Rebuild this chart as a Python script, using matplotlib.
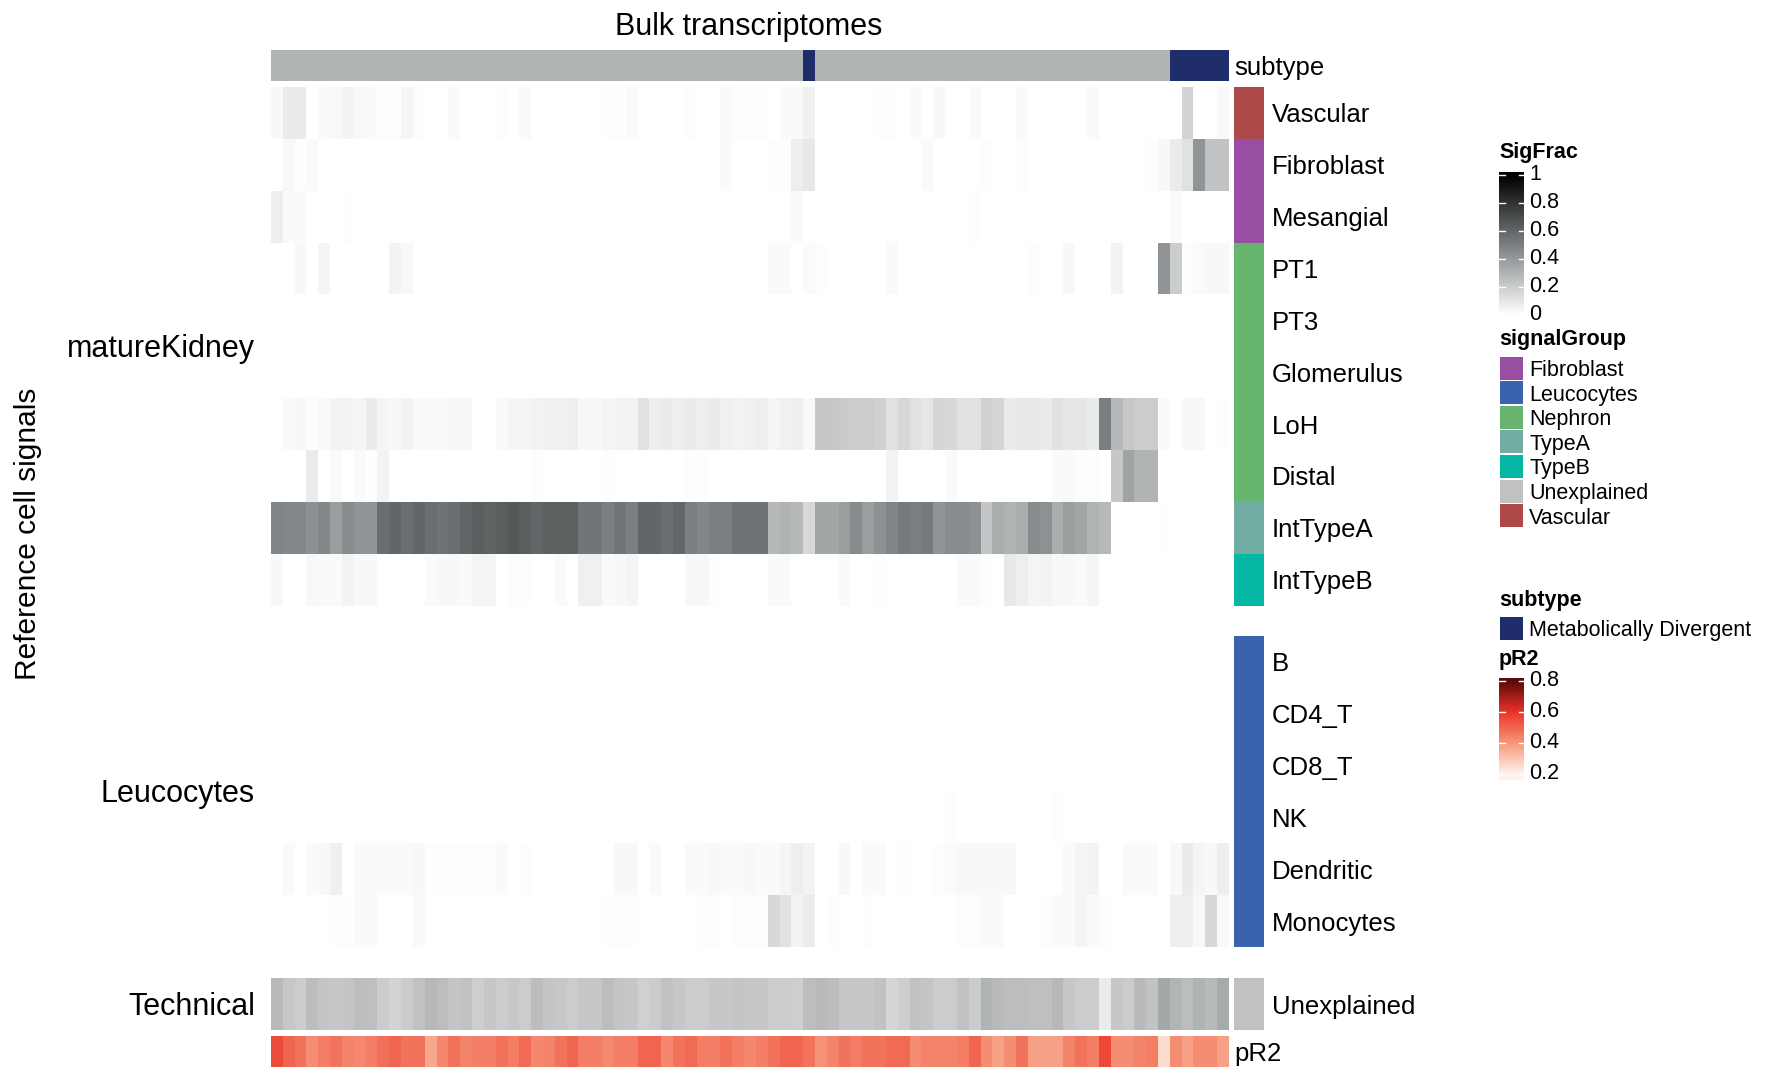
import numpy as np
import matplotlib
matplotlib.use("Agg")
import matplotlib.pyplot as plt
from matplotlib.colors import LinearSegmentedColormap, to_rgb

plt.rcParams['font.family'] = ['Liberation Sans', 'DejaVu Sans']

# ---- signal fractions per bulk sample (81 samples) ----
vascular = [0.03, 0.08, 0.08, 0, 0.02, 0.03, 0.05, 0.03, 0.02, 0.01,
            0.01, 0.04, 0.01, 0, 0, 0.02, 0, 0, 0, 0.01,
            0, 0.02, 0, 0, 0, 0, 0, 0, 0.01, 0.01,
            0.02, 0, 0, 0, 0, 0.01, 0, 0, 0.02, 0.01,
            0.01, 0.01, 0, 0.02, 0.02, 0.06, 0, 0, 0, 0,
            0, 0.01, 0.01, 0, 0.02, 0, 0.03, 0, 0, 0.02,
            0, 0, 0, 0.02, 0, 0, 0, 0, 0, 0.02,
            0, 0, 0, 0, 0, 0, 0, 0.17, 0, 0,
            0.03]
fibroblast = [0, 0.03, 0.01, 0.02, 0, 0, 0, 0, 0, 0,
              0, 0, 0, 0, 0, 0, 0, 0, 0, 0,
              0, 0, 0, 0, 0, 0, 0, 0, 0, 0,
              0, 0, 0, 0, 0, 0, 0, 0, 0.02, 0,
              0, 0, 0.01, 0.01, 0.07, 0.09, 0, 0, 0, 0,
              0, 0, 0, 0, 0, 0.02, 0, 0, 0, 0,
              0.01, 0, 0, 0.01, 0, 0, 0, 0, 0, 0,
              0, 0, 0, 0, 0.01, 0.03, 0.08, 0.12, 0.42, 0.24,
              0.24]
mesangial = [0.07, 0.02, 0.02, 0, 0, 0, 0.01, 0, 0, 0,
             0, 0, 0, 0, 0, 0, 0, 0, 0, 0,
             0, 0, 0, 0, 0, 0, 0, 0, 0, 0,
             0, 0, 0, 0, 0, 0, 0, 0, 0, 0,
             0, 0, 0, 0, 0.02, 0, 0, 0, 0, 0,
             0, 0, 0, 0, 0, 0, 0, 0, 0, 0.01,
             0, 0, 0, 0, 0, 0, 0, 0, 0, 0,
             0, 0, 0, 0, 0, 0, 0.02, 0, 0, 0,
             0]
pt1 = [0, 0, 0.03, 0, 0.04, 0, 0, 0, 0, 0,
       0.05, 0.03, 0, 0, 0, 0, 0, 0, 0, 0,
       0, 0, 0, 0, 0, 0, 0, 0, 0, 0,
       0, 0, 0, 0, 0, 0, 0, 0, 0, 0,
       0, 0, 0.02, 0.02, 0, 0.02, 0.01, 0, 0, 0,
       0, 0, 0.02, 0, 0, 0, 0, 0, 0, 0,
       0, 0, 0, 0, 0.01, 0, 0, 0.03, 0, 0,
       0, 0.05, 0, 0, 0, 0.42, 0.2, 0.01, 0.02, 0.03,
       0.03]
pt3 = [0] * 81
glomerulus = [0] * 81
loh = [0, 0.02, 0.03, 0.01, 0.02, 0.05, 0.05, 0.04, 0.08, 0.04,
       0.03, 0.05, 0.02, 0.02, 0.02, 0.03, 0.03, 0, 0, 0.02,
       0.04, 0.04, 0.05, 0.06, 0.06, 0.07, 0.03, 0.03, 0.04, 0.05,
       0.05, 0.12, 0.07, 0.08, 0.07, 0.08, 0.07, 0.08, 0.06, 0.05,
       0.06, 0.07, 0.04, 0.06, 0.07, 0.03, 0.22, 0.22, 0.21, 0.2,
       0.2, 0.18, 0.12, 0.15, 0.12, 0.1, 0.16, 0.15, 0.12, 0.12,
       0.18, 0.16, 0.08, 0.09, 0.09, 0.08, 0.12, 0.1, 0.1, 0.08,
       0.5, 0.28, 0.22, 0.2, 0.2, 0.02, 0, 0.03, 0.03, 0,
       0.01]
distal = [0, 0, 0, 0.08, 0, 0.02, 0, 0.02, 0.01, 0.05,
          0, 0, 0, 0, 0, 0, 0, 0, 0, 0,
          0, 0, 0.01, 0, 0, 0, 0, 0, 0.01, 0,
          0, 0, 0, 0, 0, 0.01, 0.01, 0, 0, 0,
          0, 0, 0, 0, 0, 0, 0, 0, 0, 0,
          0, 0, 0.05, 0, 0, 0, 0, 0.02, 0, 0,
          0, 0, 0, 0, 0, 0, 0.02, 0.02, 0.01, 0.01,
          0, 0.22, 0.36, 0.3, 0.3, 0, 0, 0, 0, 0,
          0]
inttypea = [0.48, 0.47, 0.47, 0.43, 0.47, 0.38, 0.45, 0.42, 0.42, 0.57,
            0.6, 0.57, 0.6, 0.57, 0.55, 0.57, 0.6, 0.63, 0.61, 0.63,
            0.65, 0.63, 0.6, 0.62, 0.62, 0.62, 0.54, 0.54, 0.5, 0.54,
            0.5, 0.6, 0.6, 0.57, 0.6, 0.5, 0.47, 0.5, 0.5, 0.55,
            0.55, 0.55, 0.28, 0.3, 0.28, 0.15, 0.35, 0.35, 0.38, 0.45,
            0.38, 0.43, 0.48, 0.52, 0.5, 0.52, 0.42, 0.45, 0.45, 0.43,
            0.23, 0.32, 0.3, 0.32, 0.45, 0.43, 0.32, 0.38, 0.35, 0.3,
            0.28, 0, 0, 0, 0, 0.01, 0, 0, 0, 0,
            0]
inttypeb = [0.03, 0, 0, 0.03, 0.02, 0.02, 0.05, 0.03, 0.03, 0,
            0, 0, 0, 0.02, 0.03, 0.03, 0.02, 0.04, 0.04, 0,
            0.01, 0.01, 0, 0, 0.02, 0, 0.06, 0.06, 0.02, 0.03,
            0.04, 0, 0, 0, 0, 0.03, 0.03, 0.01, 0, 0,
            0, 0, 0.02, 0.02, 0, 0, 0, 0, 0.02, 0,
            0, 0.01, 0, 0, 0, 0, 0, 0, 0.02, 0.02,
            0.01, 0, 0.09, 0.07, 0.04, 0.05, 0.03, 0.03, 0.02, 0.04,
            0, 0, 0, 0, 0, 0, 0, 0, 0, 0,
            0]
b_cells = [0] * 81
cd4_t = [0] * 81
cd8_t = [0] * 81
nk = [0, 0, 0, 0, 0, 0, 0, 0, 0, 0,
      0, 0, 0, 0, 0, 0, 0, 0, 0, 0,
      0, 0, 0, 0, 0, 0, 0, 0, 0, 0,
      0, 0, 0, 0, 0, 0, 0, 0, 0, 0,
      0, 0, 0, 0, 0, 0, 0, 0, 0, 0,
      0, 0, 0, 0, 0, 0, 0, 0.01, 0, 0,
      0, 0, 0, 0, 0, 0, 0.01, 0, 0, 0,
      0, 0, 0, 0, 0, 0, 0, 0, 0, 0,
      0]
dendritic = [0, 0.02, 0, 0.02, 0.03, 0.06, 0, 0.02, 0.02, 0.02,
             0.02, 0.02, 0.03, 0.01, 0.01, 0.01, 0.01, 0.01, 0.01, 0.02,
             0, 0.01, 0, 0, 0, 0, 0, 0, 0, 0.03,
             0.03, 0, 0.02, 0, 0, 0.02, 0.02, 0.03, 0.02, 0.02,
             0.03, 0.02, 0.02, 0.04, 0.07, 0.05, 0, 0, 0.03, 0,
             0.02, 0.02, 0, 0.01, 0, 0, 0.01, 0.02, 0.03, 0.03,
             0.03, 0.03, 0.03, 0, 0, 0, 0, 0.02, 0.04, 0.05,
             0, 0, 0.02, 0.02, 0.02, 0, 0.03, 0.08, 0.04, 0.03,
             0.07]
monocytes = [0, 0, 0, 0, 0, 0.01, 0.01, 0.02, 0.02, 0,
             0, 0, 0.02, 0, 0, 0, 0, 0, 0, 0,
             0, 0, 0, 0, 0, 0, 0, 0, 0.01, 0.01,
             0.01, 0, 0, 0, 0, 0, 0.01, 0.01, 0, 0.01,
             0.01, 0.01, 0.15, 0.12, 0.05, 0.08, 0, 0.01, 0, 0,
             0.01, 0, 0, 0, 0, 0, 0, 0, 0.01, 0.01,
             0.02, 0.02, 0, 0, 0, 0.01, 0.02, 0.02, 0.04, 0.02,
             0.01, 0, 0, 0, 0, 0, 0.07, 0.07, 0.03, 0.15,
             0.03]
unexplained = [0.27, 0.22, 0.2, 0.26, 0.23, 0.22, 0.23, 0.26, 0.25, 0.2,
               0.17, 0.2, 0.24, 0.28, 0.26, 0.23, 0.24, 0.19, 0.22, 0.2,
               0.22, 0.2, 0.26, 0.23, 0.22, 0.2, 0.22, 0.22, 0.26, 0.23,
               0.22, 0.18, 0.2, 0.24, 0.22, 0.2, 0.2, 0.22, 0.22, 0.23,
               0.22, 0.22, 0.2, 0.2, 0.19, 0.26, 0.27, 0.26, 0.22, 0.22,
               0.22, 0.24, 0.16, 0.19, 0.24, 0.23, 0.2, 0.2, 0.24, 0.2,
               0.3, 0.27, 0.26, 0.26, 0.25, 0.25, 0.28, 0.22, 0.2, 0.2,
               0.08, 0.22, 0.2, 0.27, 0.24, 0.34, 0.29, 0.26, 0.3, 0.27,
               0.33]
pr2 = [0.55, 0.5, 0.47, 0.42, 0.45, 0.47, 0.44, 0.43, 0.45, 0.48,
       0.5, 0.47, 0.47, 0.36, 0.43, 0.47, 0.44, 0.45, 0.45, 0.47,
       0.45, 0.49, 0.43, 0.44, 0.47, 0.5, 0.45, 0.45, 0.43, 0.45,
       0.45, 0.5, 0.5, 0.43, 0.47, 0.49, 0.45, 0.45, 0.47, 0.45,
       0.43, 0.45, 0.47, 0.5, 0.5, 0.47, 0.41, 0.44, 0.47, 0.45,
       0.47, 0.47, 0.49, 0.49, 0.42, 0.44, 0.44, 0.44, 0.45, 0.5,
       0.42, 0.38, 0.42, 0.47, 0.38, 0.38, 0.38, 0.44, 0.47, 0.45,
       0.56, 0.42, 0.42, 0.44, 0.45, 0.25, 0.42, 0.38, 0.42, 0.42,
       0.38]
# samples flagged as "Metabolically Divergent"
md_samples = [45, 76, 77, 78, 79, 80]

kidney_rows = ['Vascular', 'Fibroblast', 'Mesangial', 'PT1', 'PT3', 'Glomerulus',
               'LoH', 'Distal', 'IntTypeA', 'IntTypeB']
kidney_groups = ['Vascular', 'Fibroblast', 'Fibroblast', 'Nephron', 'Nephron', 'Nephron',
                 'Nephron', 'Nephron', 'TypeA', 'TypeB']
leuco_rows = ['B', 'CD4_T', 'CD8_T', 'NK', 'Dendritic', 'Monocytes']

group_names = ['Fibroblast', 'Leucocytes', 'Nephron', 'TypeA', 'TypeB', 'Unexplained', 'Vascular']
group_colors = ['#984ea3', '#3b63ad', '#68b56f', '#72ada3', '#05b8a5', '#c0c1c1', '#ae4949']
gcol = dict(zip(group_names, group_colors))

kidney = np.array([vascular, fibroblast, mesangial, pt1, pt3, glomerulus,
                   loh, distal, inttypea, inttypeb])
leuco = np.array([b_cells, cd4_t, cd8_t, nk, dendritic, monocytes])
tech = np.array([unexplained])
n = kidney.shape[1]

sig_cmap = LinearSegmentedColormap.from_list('sig', ['#ffffff', '#7c8082', '#000000'])
pr2_cmap = LinearSegmentedColormap.from_list(
    'pr2', [(0, '#fff2ec'), (1 / 3, '#f6977a'), (2 / 3, '#ea3327'), (1, '#5c0a0b')])

W, H = 1771, 1069
fig = plt.figure(figsize=(W / 100, H / 100), dpi=100)


def px_axes(x0, y0, x1, y1):
    ax = fig.add_axes([x0 / W, 1 - y1 / H, (x1 - x0) / W, (y1 - y0) / H])
    ax.set_axis_off()
    return ax


def px_text(x, y, s, **kw):
    # small downward nudge so the glyphs sit centred like the row cells
    fig.text(x / W, 1 - (y + 2.5) / H, s, **kw)


HX0, HX1 = 270.7, 1228
AX0, AX1 = 1234, 1264

# subtype annotation on top
sub_rgb = np.array([[to_rgb('#1f2d6b') if i in md_samples else to_rgb('#b1b4b5')
                     for i in range(n)]])
ax = px_axes(HX0, 50, HX1, 81)
ax.imshow(sub_rgb, aspect='auto', interpolation='nearest')
px_text(1234, 65, 'subtype', fontsize=18.5, va='center')

blocks = [
    (kidney, kidney_rows, [gcol[g] for g in kidney_groups], 86.7, 605.7, 'matureKidney'),
    (leuco, leuco_rows, [gcol['Leucocytes']] * 6, 636, 947, 'Leucocytes'),
    (tech, ['Unexplained'], [gcol['Unexplained']], 978.3, 1030, 'Technical'),
]
for mat, names, cols, y0, y1, title in blocks:
    ax = px_axes(HX0, y0, HX1, y1)
    ax.imshow(mat, cmap=sig_cmap, vmin=0, vmax=1, aspect='auto', interpolation='nearest')
    ann = px_axes(AX0, y0, AX1, y1)
    ann.imshow(np.array([[to_rgb(c)] for c in cols]), aspect='auto', interpolation='nearest')
    rh = (y1 - y0) / len(names)
    for k, nm in enumerate(names):
        px_text(1272, y0 + rh * (k + 0.5), nm, fontsize=18.5, va='center')
    px_text(255, (y0 + y1) / 2, title, fontsize=22, ha='right', va='center')

# pR2 row
ax = px_axes(HX0, 1036, HX1, 1066.7)
ax.imshow(np.array([pr2]), cmap=pr2_cmap, vmin=0.2, vmax=0.8, aspect='auto',
          interpolation='nearest')
px_text(1234, 1052, 'pR2', fontsize=18.5, va='center')

px_text(749, 24, 'Bulk transcriptomes', fontsize=22, ha='center', va='center')
px_text(28, 531, 'Reference cell signals', fontsize=21.5, rotation=90,
        ha='center', va='center')


# ---- legends ----
def colorbar(y_top, y_bot, vlo, vhi, ticks, cmap, lo_lim, hi_lim):
    cax = px_axes(1499, y_top, 1524, y_bot)
    grad = np.linspace(hi_lim, lo_lim, 200).clip(vlo, vhi)[:, None]
    cax.imshow(grad, cmap=cmap, vmin=vlo, vmax=vhi, aspect='auto',
               extent=[0, 1, lo_lim, hi_lim])
    cax.set_ylim(lo_lim, hi_lim)
    cax.set_xlim(0, 1)
    for t in ticks:
        cax.plot([0, 0.22], [t, t], color='white', lw=1)
        cax.plot([0.78, 1], [t, t], color='white', lw=1)
        cax.text(1.2, t, f'{t:g}', fontsize=15.5, va='center', ha='left',
                 transform=cax.get_yaxis_transform())


px_text(1499, 150, 'SigFrac', fontsize=15.5, fontweight='bold', va='center')
colorbar(172, 320, 0, 1, [0, 0.2, 0.4, 0.6, 0.8, 1], sig_cmap, -0.036, 1.021)

px_text(1499, 337, 'signalGroup', fontsize=15.5, fontweight='bold', va='center')
for k, (nm, c) in enumerate(zip(group_names, group_colors)):
    yc = 368 + 24.6 * k
    sq = px_axes(1500, yc - 11.5, 1523, yc + 11.5)
    sq.add_patch(plt.Rectangle((0, 0), 1, 1, color=c, transform=sq.transAxes))
    px_text(1529, yc, nm, fontsize=15.5, va='center')

px_text(1499, 598, 'subtype', fontsize=15.5, fontweight='bold', va='center')
sq = px_axes(1500, 628 - 11.5, 1523, 628 + 11.5)
sq.add_patch(plt.Rectangle((0, 0), 1, 1, color='#1f2d6b', transform=sq.transAxes))
px_text(1529, 628, 'Metabolically Divergent', fontsize=15.5, va='center')

px_text(1499, 657, 'pR2', fontsize=15.5, fontweight='bold', va='center')
colorbar(678, 780, 0.2, 0.8, [0.2, 0.4, 0.6, 0.8], pr2_cmap, 0.161, 0.819)

fig.savefig('out.png', dpi=100)
